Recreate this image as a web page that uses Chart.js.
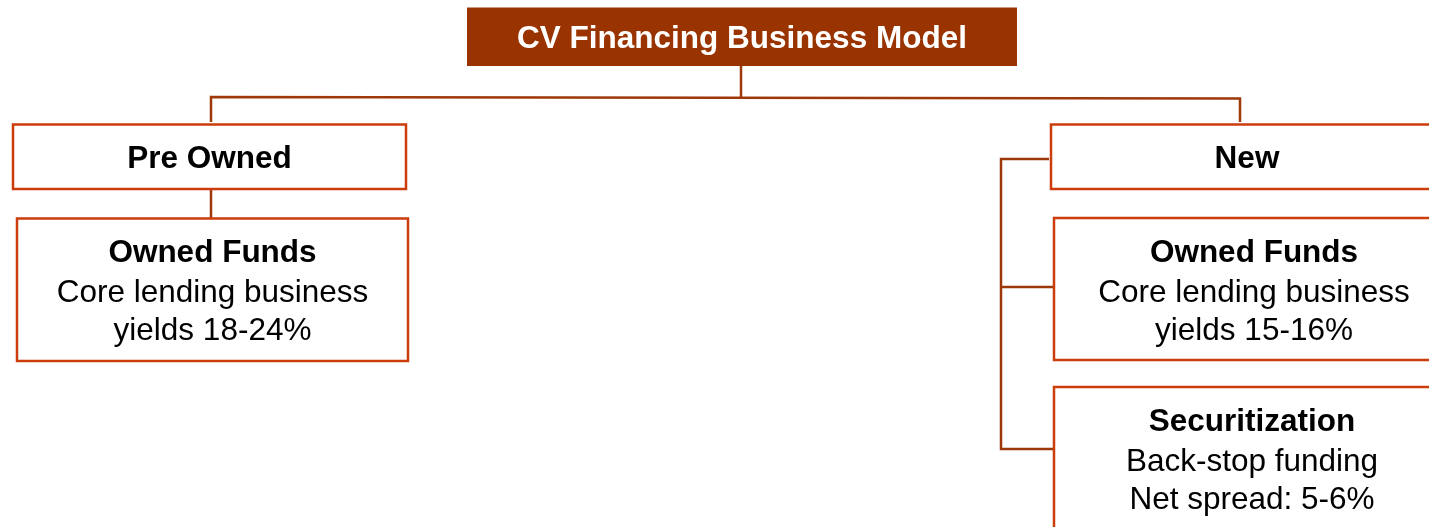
<!DOCTYPE html>
<html>
<head>
<meta charset="utf-8">
<script src="https://cdn.jsdelivr.net/npm/chart.js@4"></script>
<style>
html,body{margin:0;padding:0;background:#fff;}
#wrap{width:1429px;height:527px;position:relative;}
</style>
</head>
<body>
<div id="wrap"><canvas id="c"></canvas></div>
<script>
// ---- content ----
const titleText = 'CV Financing Business Model';
const branchLabels = ['Pre Owned', 'New'];
const boxHeads = ['Owned Funds', 'Owned Funds', 'Securitization'];
const boxLine1 = ['Core lending business', 'Core lending business', 'Back-stop funding'];
const boxLine2 = ['yields 18-24%', 'yields 15-16%', 'Net spread: 5-6%'];

// ---- layout (diagram coordinates, in axis units) ----
const layout = {
  title: [467, 1017, 7.5, 66],
  branches: [[13, 406, 124.5, 189], [1051, 1443, 124.5, 189]],
  boxes: [[17, 408, 218.5, 361], [1054, 1454, 218, 360], [1054, 1450, 387, 530]],
  lineOffsets: [35, 75, 113],
  connectors: [
    [[741, 66], [741, 97]],
    [[211, 122], [211, 97], [1240, 98.5], [1240, 122]],
    [[211, 189], [211, 218]],
    [[1049, 159], [1001, 159], [1001, 449], [1053, 449]],
    [[1001, 287], [1053, 287]]
  ]
};

const styles = {
  titleFill: '#993300',
  border: '#CC3D0C',
  connector: '#9E3808',
  font: '"Liberation Sans", Arial, sans-serif',
  size: 31.5
};

const diagramPlugin = {
  id: 'diagram',
  afterDatasetsDraw(chart) {
    const ctx = chart.ctx;
    const xs = chart.scales.x, ys = chart.scales.y;
    const X = v => xs.getPixelForValue(v);
    const Y = v => ys.getPixelForValue(v);
    ctx.save();
    // connectors
    ctx.strokeStyle = styles.connector;
    ctx.lineWidth = 2.5;
    ctx.lineJoin = 'miter';
    layout.connectors.forEach(pts => {
      ctx.beginPath();
      pts.forEach((p, i) => i ? ctx.lineTo(X(p[0]), Y(p[1])) : ctx.moveTo(X(p[0]), Y(p[1])));
      ctx.stroke();
    });
    // title
    const t = layout.title;
    ctx.fillStyle = styles.titleFill;
    ctx.fillRect(X(t[0]), Y(t[2]), X(t[1]) - X(t[0]), Y(t[3]) - Y(t[2]));
    ctx.fillStyle = '#fff';
    ctx.textAlign = 'center';
    ctx.textBaseline = 'middle';
    ctx.font = 'bold ' + styles.size + 'px ' + styles.font;
    ctx.fillText(titleText, X((t[0] + t[1]) / 2), Y((t[2] + t[3]) / 2) + 2.5);
    // boxes
    const box = b => {
      ctx.fillStyle = '#fff';
      ctx.fillRect(X(b[0]), Y(b[2]), X(b[1]) - X(b[0]), Y(b[3]) - Y(b[2]));
      ctx.strokeStyle = styles.border;
      ctx.lineWidth = 2.5;
      ctx.strokeRect(X(b[0]), Y(b[2]), X(b[1]) - X(b[0]), Y(b[3]) - Y(b[2]));
    };
    layout.branches.forEach((b, i) => {
      box(b);
      ctx.fillStyle = '#000';
      ctx.font = 'bold ' + styles.size + 'px ' + styles.font;
      ctx.fillText(branchLabels[i], X((b[0] + b[1]) / 2), Y((b[2] + b[3]) / 2) + 3);
    });
    layout.boxes.forEach((b, i) => {
      box(b);
      const cx = X((b[0] + b[1]) / 2);
      ctx.fillStyle = '#000';
      ctx.font = 'bold ' + styles.size + 'px ' + styles.font;
      ctx.fillText(boxHeads[i], cx, Y(b[2] + layout.lineOffsets[0]));
      ctx.font = styles.size + 'px ' + styles.font;
      ctx.fillText(boxLine1[i], cx, Y(b[2] + layout.lineOffsets[1]));
      ctx.fillText(boxLine2[i], cx, Y(b[2] + layout.lineOffsets[2]));
    });
    ctx.restore();
  }
};

new Chart(document.getElementById('c'), {
  type: 'scatter',
  data: { datasets: [{ data: [], pointRadius: 0 }] },
  options: {
    responsive: true,
    maintainAspectRatio: false,
    animation: false,
    layout: { padding: 0 },
    plugins: { legend: { display: false }, tooltip: { enabled: false } },
    scales: {
      x: { type: 'linear', min: 0, max: 1429, display: false },
      y: { type: 'linear', min: 0, max: 527, reverse: true, display: false }
    }
  },
  plugins: [diagramPlugin]
});
</script>
</body>
</html>
